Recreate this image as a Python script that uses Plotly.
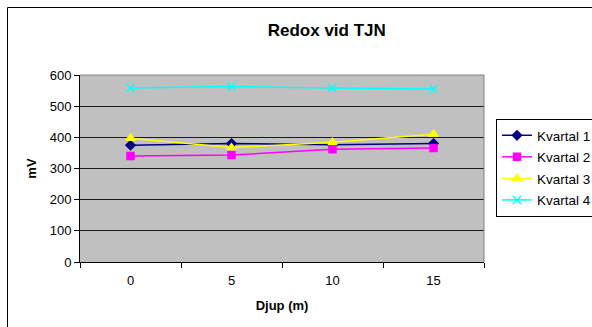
import plotly.graph_objects as go

depths = ["0", "5", "10", "15"]
kvartal1 = [375, 380, 376, 380]
kvartal2 = [340, 343, 362, 366]
kvartal3 = [397, 367, 384, 410]
kvartal4 = [558, 563, 558, 555]
series_names = ["Kvartal 1", "Kvartal 2", "Kvartal 3", "Kvartal 4"]
y_ticks = [0, 100, 200, 300, 400, 500, 600]

W, H = 592, 327
L, R, T, B = 80, 108, 75, 65
pw, ph = W - L - R, H - T - B

def px(x):
    return (x - L) / pw

def py(y):
    return (H - B - y) / ph

styles = [
    dict(color="#000080", symbol="diamond", size=7),
    dict(color="#FF00FF", symbol="square", size=7),
    dict(color="#FFFF00", symbol="triangle-up", size=8),
    dict(color="#00FFFF", symbol="x-thin", size=8),
]

fig = go.Figure()
for name, vals, st, grp in zip(series_names, [kvartal1, kvartal2, kvartal3, kvartal4], styles, ["a", "b", "c", "d"]):
    fig.add_trace(go.Scatter(
        x=depths, y=vals, name=name, mode="lines+markers",
        legendgroup=grp,
        line=dict(color=st["color"], width=1.5),
        marker=dict(color=st["color"], symbol=st["symbol"], size=st["size"],
                    line=dict(color=st["color"], width=1.5)),
    ))

fig.update_layout(
    width=W, height=H,
    margin=dict(l=L, r=R, t=T, b=B, autoexpand=False),
    paper_bgcolor="white",
    plot_bgcolor="#C0C0C0",
    font=dict(family="Liberation Sans, Arial, sans-serif", size=13, color="black"),
    title=dict(text="<b>Redox vid TJN</b>", x=px(303), xanchor="center",
               y=1 - 30 / H, yanchor="middle", font=dict(size=17)),
    xaxis=dict(type="category", tickson="boundaries", ticks="outside", ticklen=5,
               range=[-0.5, 3.5], ticklabelstandoff=6,
               tickcolor="black", showline=True, linecolor="black", linewidth=1,
               showgrid=False, mirror=False, tickfont=dict(size=13),
               title=dict(text="<b>Djup (m)</b>", font=dict(size=13), standoff=14)),
    yaxis=dict(range=[0, 600], tickvals=y_ticks, ticks="outside", ticklen=5,
               tickcolor="black", showline=True, linecolor="black", linewidth=1,
               showgrid=True, gridcolor="#1a1a1a", gridwidth=1, zeroline=False,
               tickfont=dict(size=13),
               title=dict(text="<b>mV</b>", font=dict(size=13), standoff=10)),
    legend=dict(x=px(496), y=py(119), xanchor="left", yanchor="top",
                bordercolor="black", borderwidth=1, bgcolor="white",
                font=dict(size=13.5), tracegroupgap=1, itemwidth=30),
    shapes=[
        dict(type="rect", xref="paper", yref="paper",
             x0=px(7.5), x1=px(620), y0=py(7.5), y1=py(360),
             line=dict(color="black", width=1), fillcolor="rgba(0,0,0,0)", layer="below"),
        dict(type="line", xref="paper", yref="paper", x0=0, x1=1, y0=1, y1=1,
             line=dict(color="#808080", width=1)),
        dict(type="line", xref="paper", yref="paper", x0=1, x1=1, y0=0, y1=1,
             line=dict(color="#808080", width=1)),
    ],
)

fig.write_html("out.html")
